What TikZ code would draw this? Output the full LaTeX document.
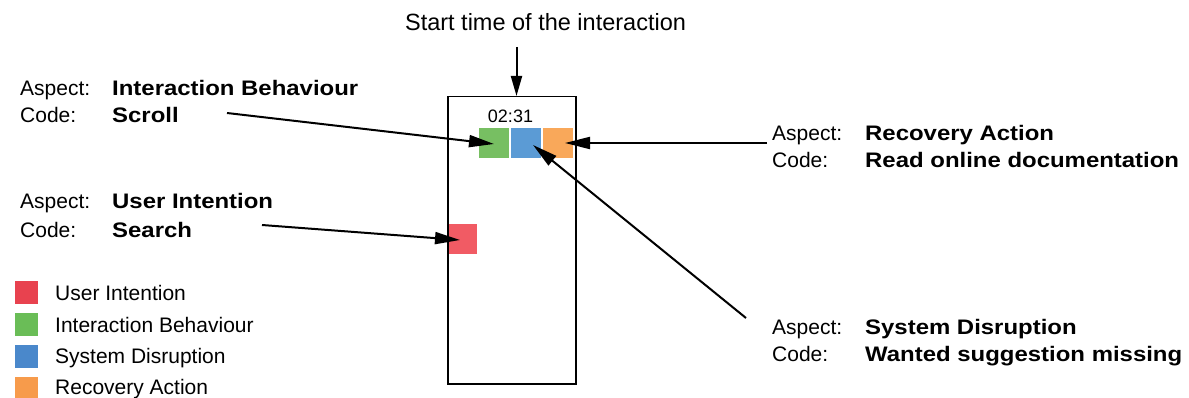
\documentclass[tikz,border=0pt]{standalone}
\usepackage{fontspec}
\setmainfont{Liberation Sans}
\newfontface\bfx{Liberation Sans Bold}[FakeStretch=1.14]
\usetikzlibrary{arrows.meta}
\definecolor{cred}{HTML}{F15B64}
\definecolor{cgreen}{HTML}{77BF62}
\definecolor{cblue}{HTML}{5B9BD5}
\definecolor{corange}{HTML}{F9A85A}
\definecolor{lred}{HTML}{E8424F}
\definecolor{lgreen}{HTML}{6ABD57}
\definecolor{lblue}{HTML}{4A88CB}
\definecolor{lorange}{HTML}{F79B4B}
\tikzset{
  lbl/.style={anchor=base west, inner sep=0pt, font=\fontsize{21}{24}\selectfont},
  blbl/.style={anchor=base west, inner sep=0pt, font=\fontsize{21}{24}\bfx},
  leg/.style={anchor=base west, inner sep=0pt, font=\fontsize{21}{24}\selectfont},
  sq/.style={minimum width=30pt, minimum height=30pt, inner sep=0pt, anchor=north west},
  lsq/.style={minimum width=23pt, minimum height=23pt, inner sep=0pt, anchor=north west},
  arr/.style={line width=2pt, -{Triangle[length=25pt,width=12pt]}},
}
\begin{document}
\begin{tikzpicture}[x=1pt,y=-1pt]
\useasboundingbox (0,0) rectangle (1189,398);
% squares
\node[sq, fill=cgreen] (g) at (479,128) {};
\node[sq, fill=cblue] (b) at (511,128) {};
\node[sq, fill=corange] (o) at (543,128) {};
\node[sq, fill=cred] (r) at (447,224) {};
% main timeline rectangle
\node[draw, line width=1.5pt, minimum width=128pt, minimum height=287pt, inner sep=0pt, anchor=north west] (tl) at (447,96) {};
% time
\node[anchor=base, inner sep=0pt, font=\fontsize{18}{20}\selectfont] (time) at (510.5,123) {02:31};
\node[anchor=base, inner sep=0pt, font=\fontsize{23.5}{26}\selectfont] (start) at (545.5,31) {Start time of the interaction};
% labels left top
\node[lbl] (a1) at (20,96) {Aspect:};
\node[blbl] (a1v) at (112,96) {Interaction Behaviour};
\node[lbl] (c1) at (20,123) {Code:};
\node[blbl] (c1v) at (112,123) {Scroll};
% labels left middle
\node[lbl] (a2) at (20,209) {Aspect:};
\node[blbl] (a2v) at (112,209) {User Intention};
\node[lbl] (c2) at (20,237) {Code:};
\node[blbl] (c2v) at (112,237) {Search};
% labels right top
\node[lbl] (a3) at (772,141) {Aspect:};
\node[blbl] (a3v) at (865,141) {Recovery Action};
\node[lbl] (c3) at (772,168) {Code:};
\node[blbl] (c3v) at (865,168) {Read online documentation};
% labels right bottom
\node[lbl] (a4) at (772,334) {Aspect:};
\node[blbl] (a4v) at (865,334) {System Disruption};
\node[lbl] (c4) at (772,361) {Code:};
\node[blbl] (c4v) at (865,361) {Wanted suggestion missing};
% legend
\node[lsq, fill=lred] (l1) at (15,281) {};
\node[leg] (t1) at (55,300) {User Intention};
\node[lsq, fill=lgreen] (l2) at (15,313) {};
\node[leg] (t2) at (55,332) {Interaction Behaviour};
\node[lsq, fill=lblue] (l3) at (15,345) {};
\node[leg] (t3) at (55,363.5) {System Disruption};
\node[lsq, fill=lorange] (l4) at (15,377) {};
\node[leg] (t4) at (55,394.5) {Recovery Action};
% arrow coordinates
\coordinate (s0) at (516.5,47);
\coordinate (e0) at (516.5,96);
\coordinate (s1) at (227,113);
\coordinate (e1) at (494,144);
\coordinate (s2) at (262,225);
\coordinate (e2) at (460,240);
\coordinate (s3) at (767,143);
\coordinate (e3) at (565,143);
\coordinate (s4) at (746,318);
\coordinate (e4) at (533,145);
\draw[line width=2pt, -{Triangle[length=20pt,width=11pt]}] (s0) -- (e0);
\draw[arr] (s1) -- (e1);
\draw[arr] (s2) -- (e2);
\draw[arr] (s3) -- (e3);
\draw[arr] (s4) -- (e4);
\end{tikzpicture}
\end{document}
